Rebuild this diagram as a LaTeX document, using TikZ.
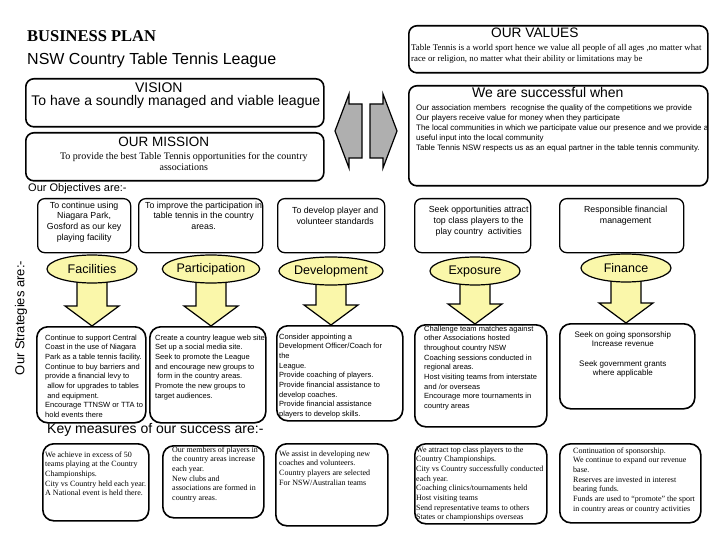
\documentclass[tikz,border=0pt]{standalone}
\usepackage{fontspec}
\setmainfont{Liberation Serif}
\setsansfont{Liberation Sans}
\usepackage{xcolor}
\usepackage{tikz}
\usetikzlibrary{shapes, arrows, positioning, calc, backgrounds}

\definecolor{goalyellow}{RGB}{250,247,170}
\definecolor{arrowgray}{RGB}{175,175,175}

% rows of text, baseline on the first row
\newcommand{\boxlines}[2][l]{\begin{tabular}[t]{@{}#1@{}}#2\end{tabular}}

\tikzset{
  bigbox/.style={draw, line width=1.6pt, rounded corners=8pt, anchor=north west, inner sep=0pt},
  objbox/.style={draw, line width=1.3pt, rounded corners=7pt, anchor=north west, inner sep=0pt},
  stratbox/.style={draw, line width=1.6pt, rounded corners=11pt, anchor=north west, inner sep=0pt},
  goal/.style={ellipse, draw, line width=1.2pt, fill=goalyellow, minimum width=90pt, minimum height=28pt, inner sep=0pt, font=\sffamily\fontsize{12.5}{14}\selectfont},
  head/.style={anchor=base, inner sep=0pt, font=\sffamily\fontsize{14}{16}\selectfont},
  objtext/.style={anchor=base, inner sep=0pt, font=\sffamily\fontsize{8.8}{10.7}\selectfont},
  strattext/.style={anchor=base west, inner sep=0pt, font=\sffamily\fontsize{7.5}{9.7}\selectfont},
  keytext/.style={anchor=base west, inner sep=0pt, font=\fontsize{8}{9.7}\selectfont},
  downarrow/.style={draw, line width=1.2pt, fill=goalyellow},
  sidearrow/.style={draw, line width=1.2pt, fill=arrowgray},
}

\begin{document}
\begin{tikzpicture}[x=1pt, y=-1pt]
  \useasboundingbox (0,0) rectangle (720,540);

  % Title
  \node[anchor=base west, inner sep=0pt, font=\bfseries\fontsize{16.5}{18}\selectfont] (title) at (27,42) {BUSINESS PLAN};
  \node[anchor=base west, inner sep=0pt, font=\sffamily\fontsize{16}{18}\selectfont] (league) at (27,65) {NSW Country Table Tennis League};

  % Vision and mission
  \node[bigbox, minimum width=298pt, minimum height=48pt] (vision) at (25,78) {};
  \node[head] (visionhead) at ($(vision.north)+(-16,15)$) {VISION};
  \node[head] (visiontext) at ($(vision.north)+(1,28)$) {To have a soundly managed and viable league};
  \node[bigbox, minimum width=298pt, minimum height=48pt] (mission) at (25,132) {};
  \node[head, font=\sffamily\fontsize{13.5}{16}\selectfont] (missionhead) at ($(mission.north)+(-11,15)$) {OUR MISSION};
  \node[anchor=base, inner sep=0pt, font=\fontsize{10}{11}\selectfont] (missiontext) at ($(mission.north)+(9,28)$)
    {\boxlines[c]{To provide the best Table Tennis opportunities for the country\\associations}};

  % Values and success
  \node[bigbox, minimum width=299pt, minimum height=47pt] (values) at (408,25) {};
  \node[head, font=\sffamily\fontsize{13.7}{16}\selectfont] (valueshead) at ($(values.north)+(-23.5,13)$) {OUR VALUES};
  \node[anchor=base west, inner sep=0pt, font=\fontsize{8.8}{11}\selectfont] (valuestext) at ($(values.north west)+(3,26)$)
    {\boxlines{Table Tennis is a world sport hence we value all people of all ages ,no matter what\\
     race or religion, no matter what their ability or limitations may be}};
  \node[bigbox, minimum width=299pt, minimum height=100pt] (success) at (408,85) {};
  \node[head] (successhead) at ($(success.north)+(-10.5,13)$) {We are successful when};
  \node[anchor=base west, inner sep=0pt, font=\sffamily\fontsize{7.9}{9.8}\selectfont] (successtext) at ($(success.north west)+(8,26)$)
    {\boxlines{Our association members \ recognise the quality of the competitions we provide\\
     Our players receive value for money when they participate\\
     The local communities in which we participate value our presence and we provide a\\
     useful input into the local community\\
     Table Tennis NSW respects us as an equal partner in the table tennis community.}};

  % Side arrows
  \draw[sidearrow] (335,131) -- (349,94) -- (349,104) -- (362,104) -- (362,158) -- (349,158) -- (349,168) -- cycle;
  \draw[sidearrow] (397,131) -- (383,94) -- (383,104) -- (370,104) -- (370,158) -- (383,158) -- (383,168) -- cycle;

  % Objectives
  \node[anchor=base west, inner sep=0pt, font=\sffamily\fontsize{11}{13}\selectfont] (objlabel) at (28,192) {Our Objectives are:-};
  \node[objbox, minimum width=93pt, minimum height=54pt] (obj1) at (37,198) {};
  \node[objbox, minimum width=124pt, minimum height=54pt] (obj2) at (138,198) {};
  \node[objbox, minimum width=107pt, minimum height=54pt] (obj3) at (277,198) {};
  \node[objbox, minimum width=116pt, minimum height=54pt] (obj4) at (414,198) {};
  \node[objbox, minimum width=124pt, minimum height=54pt] (obj5) at (559,198) {};
  \node[objtext] (obj1text) at ($(obj1.north)+(0,10)$) {\boxlines[c]{To continue using\\Niagara Park,\\Gosford as our key\\playing facility}};
  \node[objtext] (obj2text) at ($(obj2.north)+(3,10)$) {\boxlines[c]{To improve the participation in\\table tennis in the country\\areas.}};
  \node[objtext] (obj3text) at ($(obj3.north)+(4,16)$) {\boxlines[c]{To develop player and\\volunteer standards}};
  \node[objtext] (obj4text) at ($(obj4.north)+(6,15)$) {\boxlines[c]{Seek opportunities attract\\top class players to the\\play country \ activities}};
  \node[objtext] (obj5text) at ($(obj5.north)+(4,15)$) {\boxlines[c]{Responsible financial\\management}};

  % Strategies
  \node[rotate=90, inner sep=0pt, font=\sffamily\fontsize{13}{15}\selectfont] (stratlabel) at (21,318) {Our Strategies are:-};
  \node[stratbox, minimum width=109pt, minimum height=96pt] (s1) at (36,326) {};
  \node[stratbox, minimum width=116pt, minimum height=96pt] (s2) at (149,326) {};
  \node[stratbox, minimum width=126pt, minimum height=95pt] (s3) at (276,325) {};
  \node[stratbox, minimum width=132pt, minimum height=102pt] (s4) at (414,324) {};
  \node[stratbox, minimum width=135pt, minimum height=85pt] (s5) at (559,323) {};

  % Goals
  \node[goal] (fac) at (92,269) {Facilities};
  \node[goal] (part) at (211,269) {Participation};
  \node[goal] (dev) at (331,271) {Development};
  \node[goal] (expo) at (475,271) {Exposure};
  \node[goal] (fin) at (626,268) {Finance};

  % Down arrows from goals to strategies
  \begin{scope}[on background layer]
    \foreach \g/\s in {fac/s1, part/s2, dev/s3, expo/s4, fin/s5}
      \draw[downarrow] let \p1=(\g.south), \p2=(\s.north) in
        (\x1-15pt,\y1+3pt) -- (\x1-15pt,\y2+20pt) -- (\x1-27pt,\y2+20pt) -- (\x1,\y2)
        -- (\x1+27pt,\y2+20pt) -- (\x1+15pt,\y2+20pt) -- (\x1+15pt,\y1+3pt) -- cycle;
  \end{scope}

  \node[strattext] (s1text) at ($(s1.north west)+(9,14)$)
    {\boxlines{Continue to support Central\\Coast in the use of Niagara\\Park as a table tennis facility.\\Continue to buy barriers and\\provide a financial levy to\\
     \ allow for upgrades to tables\\ \ and equipment.\\Encourage TTNSW or TTA to\\hold events there}};
  \node[strattext] (s2text) at ($(s2.north west)+(6,14)$)
    {\boxlines{Create a country league web site\\Set up a social media site.\\Seek to promote the League\\and encourage new groups to\\ \ form in the country areas.\\Promote the new groups to\\target audiences.}};
  \node[strattext] (s3text) at ($(s3.north west)+(3,14)$)
    {\boxlines{Consider appointing a\\Development Officer/Coach for\\the\\League.\\Provide coaching of players.\\Provide financial assistance to\\develop coaches.\\Provide financial assistance\\players to develop skills.}};
  \node[strattext] (s4text) at ($(s4.north west)+(10,7)$)
    {\boxlines{Challenge team matches against\\other Associations hosted\\throughout country NSW\\Coaching sessions conducted in\\regional areas.\\Host visiting teams from interstate\\and /or overseas\\Encourage more tournaments in\\country areas}};
  \node[strattext, anchor=base, font=\sffamily\fontsize{8}{9.5}\selectfont] (s5text) at ($(s5.north)+(-4.5,14)$)
    {\boxlines[c]{Seek on going sponsorship\\Increase revenue\\[10pt]Seek government grants\\where applicable}};

  % Key measures
  \node[anchor=base west, inner sep=0pt, font=\sffamily\fontsize{14}{16}\selectfont] (keylabel) at (47,433) {Key measures of our success are:-};
  \node[stratbox, minimum width=106pt, minimum height=77pt] (k1) at (42,443) {};
  \node[stratbox, minimum width=101pt, minimum height=72pt] (k2) at (162,445) {};
  \node[stratbox, minimum width=112pt, minimum height=82pt] (k3) at (275,443) {};
  \node[stratbox, minimum width=132pt, minimum height=80pt] (k4) at (414,443) {};
  \node[stratbox, minimum width=141pt, minimum height=79pt] (k5) at (559,443) {};
  \node[keytext] (k1text) at ($(k1.north west)+(3,14)$)
    {\boxlines{We achieve in excess of 50\\teams playing at the Country\\Championships.\\City vs Country held each year.\\A National event is held there.}};
  \node[keytext] (k2text) at ($(k2.north west)+(10,7)$)
    {\boxlines{Our members of players in\\the country areas increase\\each year.\\New clubs and\\associations are formed in\\country areas.}};
  \node[keytext] (k3text) at ($(k3.north west)+(4,13)$)
    {\boxlines{We assist in developing new\\coaches and volunteers.\\Country players are selected\\For NSW/Australian teams}};
  \node[keytext] (k4text) at ($(k4.north west)+(2,9)$)
    {\boxlines{We attract top class players to the\\Country Championships.\\City vs Country successfully conducted\\each year.\\Coaching clinics/tournaments held\\Host visiting teams\\Send representative teams to others\\States or championships overseas}};
  \node[keytext] (k5text) at ($(k5.north west)+(14,10)$)
    {\boxlines{Continuation of sponsorship.\\We continue to expand our revenue\\base.\\Reserves are invested in interest\\bearing funds.\\Funds are used to “promote” the sport\\in country areas or country activities}};
\end{tikzpicture}
\end{document}
